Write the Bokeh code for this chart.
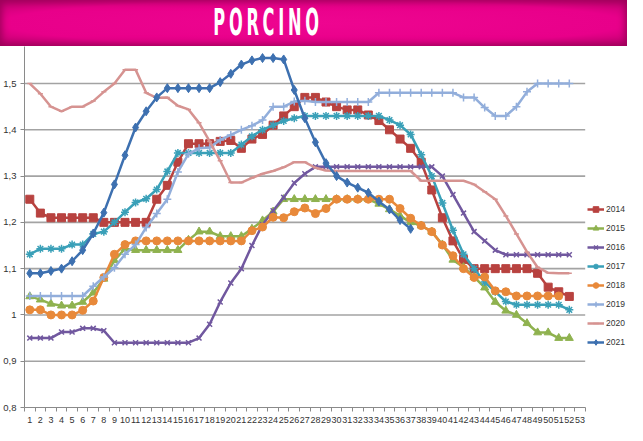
from bokeh.plotting import figure
from bokeh.models import FixedTicker, Legend, LegendItem, Range1d, Div
from bokeh.layouts import column
from bokeh.embed import file_html
from bokeh.resources import INLINE

title_text = "PORCINO"

week_labels = list(range(1, 54))
y_ticks = [0.8, 0.9, 1.0, 1.1, 1.2, 1.3, 1.4, 1.5]
y_tick_labels = ["0,8", "0,9", "1", "1,1", "1,2", "1,3", "1,4", "1,5"]

s2014 = [1.25, 1.22, 1.21, 1.21, 1.21, 1.21, 1.21, 1.20, 1.20, 1.20, 1.20, 1.20,
         1.25, 1.28, 1.33, 1.37, 1.37, 1.37, 1.375, 1.377, 1.36, 1.38, 1.39, 1.41,
         1.43, 1.45, 1.47, 1.47, 1.46, 1.45, 1.443, 1.443, 1.432, 1.42, 1.40, 1.38,
         1.36, 1.33, 1.27, 1.21, 1.16, 1.12, 1.10, 1.10, 1.10, 1.10, 1.10, 1.10,
         1.09, 1.06, 1.05, 1.04]
s2015 = [1.04, 1.033, 1.024, 1.02, 1.02, 1.028, 1.048, 1.078, 1.118, 1.143, 1.14, 1.14,
         1.14, 1.14, 1.14, 1.162, 1.18, 1.18, 1.17, 1.17, 1.17, 1.186, 1.204, 1.223,
         1.25, 1.25, 1.25, 1.25, 1.25, 1.25, 1.25, 1.25, 1.25, 1.24, 1.228, 1.214,
         1.20, 1.193, 1.18, 1.152, 1.119, 1.103, 1.082, 1.059, 1.028, 1.009, 1.0, 0.982,
         0.962, 0.962, 0.95, 0.95]
s2016 = [0.95, 0.95, 0.95, 0.963, 0.963, 0.971, 0.971, 0.966, 0.94, 0.94, 0.94, 0.94,
         0.94, 0.94, 0.94, 0.94, 0.95, 0.98, 1.028, 1.069, 1.10, 1.15, 1.195, 1.225,
         1.254, 1.285, 1.305, 1.32, 1.32, 1.32, 1.32, 1.32, 1.32, 1.32, 1.32, 1.32,
         1.32, 1.32, 1.32, 1.30, 1.26, 1.22, 1.18, 1.16, 1.14, 1.13, 1.13, 1.13,
         1.13, 1.13, 1.13, 1.13]
s2017 = [1.131, 1.143, 1.143, 1.143, 1.152, 1.152, 1.175, 1.18, 1.20, 1.222, 1.243, 1.251,
         1.271, 1.31, 1.35, 1.35, 1.35, 1.35, 1.35, 1.35, 1.368, 1.386, 1.40, 1.41,
         1.419, 1.425, 1.43, 1.43, 1.43, 1.43, 1.43, 1.43, 1.43, 1.43, 1.421, 1.41,
         1.39, 1.346, 1.30, 1.242, 1.183, 1.131, 1.10, 1.071, 1.05, 1.029, 1.022, 1.022,
         1.022, 1.022, 1.022, 1.011]
s2018 = [1.011, 1.011, 1.0, 1.0, 1.0, 1.01, 1.03, 1.081, 1.131, 1.152, 1.16, 1.16,
         1.16, 1.16, 1.16, 1.16, 1.16, 1.16, 1.16, 1.16, 1.16, 1.182, 1.19, 1.211,
         1.21, 1.223, 1.231, 1.219, 1.23, 1.25, 1.25, 1.25, 1.25, 1.25, 1.25, 1.23,
         1.209, 1.193, 1.18, 1.151, 1.128, 1.10, 1.081, 1.082, 1.052, 1.05, 1.041, 1.041,
         1.041, 1.041, 1.041]
s2019 = [1.041, 1.041, 1.041, 1.041, 1.041, 1.041, 1.062, 1.082, 1.102, 1.131, 1.152, 1.189,
         1.219, 1.25, 1.309, 1.348, 1.36, 1.362, 1.378, 1.389, 1.40, 1.409, 1.421, 1.45,
         1.45, 1.461, 1.463, 1.46, 1.46, 1.46, 1.46, 1.46, 1.46, 1.48, 1.48, 1.48,
         1.48, 1.48, 1.48, 1.48, 1.48, 1.47, 1.47, 1.448, 1.43, 1.43, 1.45, 1.482,
         1.50, 1.50, 1.50, 1.50]
s2020 = [1.50, 1.478, 1.45, 1.44, 1.45, 1.45, 1.462, 1.482, 1.50, 1.53, 1.53, 1.48,
         1.469, 1.47, 1.452, 1.444, 1.415, 1.375, 1.333, 1.286, 1.286, 1.296, 1.305, 1.311,
         1.319, 1.33, 1.33, 1.318, 1.312, 1.311, 1.311, 1.311, 1.311, 1.311, 1.311, 1.311,
         1.311, 1.29, 1.29, 1.29, 1.29, 1.29, 1.282, 1.266, 1.25, 1.214, 1.175, 1.136,
         1.103, 1.091, 1.09, 1.09]
s2021 = [1.09, 1.09, 1.095, 1.10, 1.116, 1.14, 1.176, 1.221, 1.282, 1.345, 1.405, 1.44,
         1.47, 1.49, 1.49, 1.49, 1.49, 1.49, 1.503, 1.521, 1.541, 1.55, 1.555, 1.555,
         1.552, 1.486, 1.425, 1.373, 1.328, 1.30, 1.286, 1.275, 1.264, 1.245, 1.228, 1.205,
         1.186]

series_names = ["2014", "2015", "2016", "2017", "2018", "2019", "2020", "2021"]
series_values = [s2014, s2015, s2016, s2017, s2018, s2019, s2020, s2021]

colors = ["#b8423f", "#8fb24f", "#71589f", "#3aa0b8", "#e8893a", "#92aedb", "#d69391", "#3d70b0"]
markers = ["square", "triangle", "x", "asterisk", "circle", "cross", "dash", "diamond"]
msizes = [8, 8, 7, 8, 8, 8, 5, 9]

FONT = "Liberation Sans"
X_START, X_END = 0.5, 53.5      # category band edges of the week axis
X_VIEW_END = 57.5               # extra room on the right for the legend

p = figure(width=627, height=379, x_range=Range1d(X_START, X_VIEW_END), y_range=Range1d(0.8, 1.58),
           output_backend="svg", toolbar_location=None,
           min_border_top=0, min_border_left=0, min_border_right=0, min_border_bottom=0)
p.outline_line_color = None
p.background_fill_color = "white"
p.border_fill_color = "white"

# horizontal gridlines, limited to the week axis extent
grid_y = y_ticks[1:]
p.segment(x0=[X_START] * len(grid_y), x1=[X_END] * len(grid_y), y0=grid_y, y1=grid_y,
          line_color="#a3a3a3", line_width=1.6)

items = []
for name, vals, col, mk, ms in zip(series_names, series_values, colors, markers, msizes):
    xs = week_labels[:len(vals)]
    ln = p.line(xs, vals, line_color=col, line_width=2.5)
    if mk in ("x", "asterisk", "cross", "dash"):
        sc = p.scatter(xs, vals, marker=mk, size=ms, line_color=col, line_width=1.5, fill_color=col)
    else:
        sc = p.scatter(xs, vals, marker=mk, size=ms, line_color=col, fill_color=col)
    items.append(LegendItem(label=name, renderers=[ln, sc]))

# axes
p.xaxis.bounds = (X_START, X_END)
p.xaxis.ticker = FixedTicker(ticks=week_labels, minor_ticks=[w - 0.5 for w in week_labels] + [X_END])
p.xaxis.major_tick_line_color = None
p.xaxis.major_tick_out = 0
p.xaxis.major_tick_in = 0
p.xaxis.minor_tick_out = 4
p.xaxis.minor_tick_in = 0
p.xaxis.minor_tick_line_color = "#8a8a8a"
p.xaxis.axis_line_color = "#8a8a8a"
p.xaxis.major_label_standoff = 5
p.xaxis.major_label_text_font = FONT
p.xaxis.major_label_text_font_size = "9px"
p.xaxis.major_label_text_color = "#333333"

p.yaxis.ticker = FixedTicker(ticks=y_ticks, minor_ticks=[])
p.yaxis.major_label_overrides = dict(zip(y_ticks, y_tick_labels))
p.yaxis.major_tick_out = 4
p.yaxis.major_tick_in = 0
p.yaxis.major_tick_line_color = "#8a8a8a"
p.yaxis.axis_line_color = "#8a8a8a"
p.yaxis.major_label_standoff = 4
p.yaxis.major_label_text_font = FONT
p.yaxis.major_label_text_font_size = "9.5px"
p.yaxis.major_label_text_color = "#333333"

p.xgrid.visible = False
p.ygrid.visible = False

legend = Legend(items=items, location=(563, 58))
legend.border_line_color = None
legend.background_fill_alpha = 0
legend.label_text_font = FONT
legend.label_text_font_size = "8.5px"
legend.label_text_color = "#333333"
legend.glyph_width = 17
legend.glyph_height = 14
legend.label_height = 14
legend.spacing = 5
legend.padding = 0
legend.margin = 0
legend.label_standoff = 2
p.add_layout(legend)

banner_html = (
    '<div style="position:relative;width:627px;height:46px;'
    'background:radial-gradient(ellipse at center, #ee0590 0%, #e8008a 70%, #b8006b 100%);'
    'box-shadow: inset 0 0 7px 2px #9c0059;">'
    '<div style="position:absolute;left:268px;top:23px;'
    'transform:translate(-50%,-50%) scale(0.62,1.3);'
    "font-family:'DejaVu Sans Condensed','DejaVu Sans',sans-serif;font-stretch:condensed;"
    'font-weight:bold;font-size:29px;letter-spacing:6px;color:#ffffff;white-space:nowrap;">'
    + title_text + '</div></div>'
)
banner = Div(text=banner_html, width=627, height=46, margin=0)

layout = column(banner, p, spacing=0)
open("out.html", "w").write(file_html(layout, INLINE))
